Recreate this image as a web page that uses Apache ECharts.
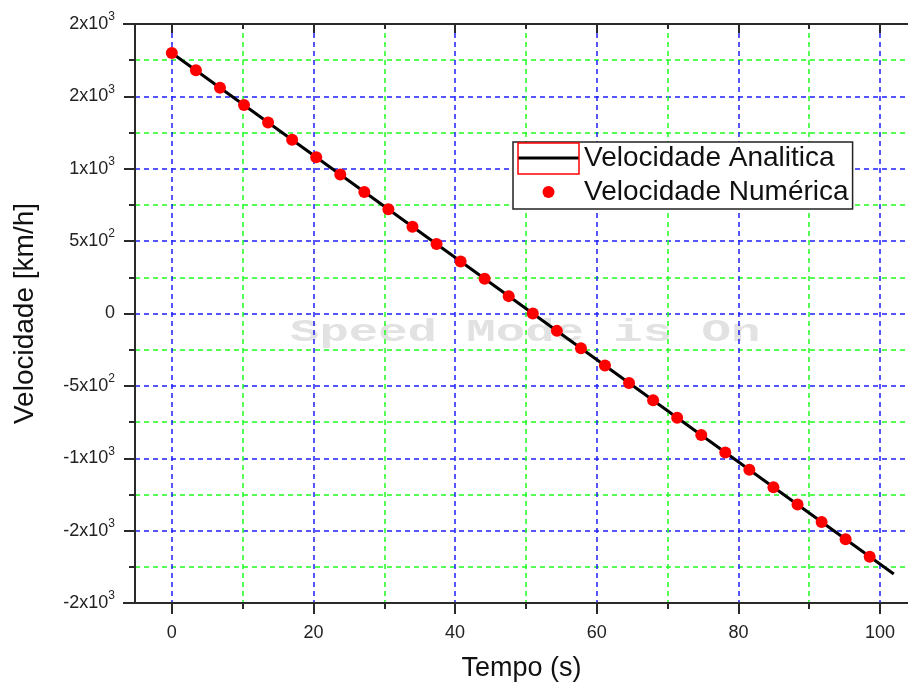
<!DOCTYPE html>
<html>
<head>
<meta charset="utf-8">
<script src="https://cdn.jsdelivr.net/npm/echarts@6/dist/echarts.min.js"></script>
<style>
  html, body { margin: 0; padding: 0; background: #ffffff; }
  #chart { width: 908px; height: 691px; }
</style>
</head>
<body>
<div id="chart"></div>
<script>
// Time samples of the numerical solution (s)
const timeNumeric = [0, 3.40, 6.80, 10.19, 13.59, 16.99, 20.39, 23.79, 27.18, 30.58,
  33.98, 37.38, 40.78, 44.17, 47.57, 50.97, 54.37, 57.77, 61.16, 64.56,
  67.96, 71.36, 74.76, 78.15, 81.55, 84.95, 88.35, 91.75, 95.14, 98.54];
// Numerical velocity (km/h)
const velocityNumeric = [1800, 1680, 1560, 1440, 1320, 1200, 1080, 960, 840, 720,
  600, 480, 360, 240, 120, 0, -120, -240, -360, -480,
  -600, -720, -840, -960, -1080, -1200, -1320, -1440, -1560, -1680];
// Analytic velocity (straight line v0 - g t)
const timeAnalytic = [0, 50.97, 101.94];
const velocityAnalytic = [1800, 0, -1800];

// Axis ticks
const xMajorTicks = [0, 20, 40, 60, 80, 100];
const xMinorTicks = [10, 30, 50, 70, 90];
const yTickValues = [-2000, -1500, -1000, -500, 0, 500, 1000, 1500, 2000];
const yTickMantissa = ['-2x10', '-2x10', '-1x10', '-5x10', '0', '5x10', '1x10', '2x10', '2x10'];
const yTickExponent = ['3', '3', '3', '2', '', '2', '3', '3', '3'];

const seriesNames = ['Velocidade Analitica', 'Velocidade Numérica'];

const FONT = '"Liberation Sans", Arial, sans-serif';
const AXIS_COLOR = '#2a2a2a';
const BLUE = '#1f1fff';
const GREEN = '#1fff1f';

const chart = echarts.init(document.getElementById('chart'), null, { renderer: 'canvas' });

const analyticData = timeAnalytic.map((t, i) => [t, velocityAnalytic[i]]);
const numericData = timeNumeric.map((t, i) => [t, velocityNumeric[i]]);

// visible time window: the plot area is cut at the right border
const xBase = { type: 'value', min: -5.2, max: 103.95, gridIndex: 0 };

const option = {
  animation: false,
  backgroundColor: '#ffffff',
  grid: { left: 135, top: 24, bottom: 88, right: 0, containLabel: false },
  legend: {
    orient: 'vertical',
    left: 513,
    top: 142,
    data: [
      { name: seriesNames[0], icon: 'path://M0,0 L61,0 L61,3 L0,3 Z' },
      { name: seriesNames[1], icon: 'circle' }
    ],
    itemWidth: 61,
    itemHeight: 12,
    itemGap: 4,
    symbolKeepAspect: true,
    padding: [1, 4, 2, 5],
    borderColor: '#222',
    borderWidth: 1.5,
    backgroundColor: '#ffffff',
    textStyle: { fontFamily: FONT, fontSize: 28, color: '#111', lineHeight: 30 }
  },
  xAxis: [
    Object.assign({}, xBase, {
      position: 'bottom',
      name: 'Tempo (s)',
      nameLocation: 'middle',
      nameGap: 52,
      nameTextStyle: { fontFamily: FONT, fontSize: 27, color: '#111' },
      axisLine: { show: true, onZero: false, lineStyle: { color: AXIS_COLOR, width: 2 } },
      axisTick: { show: true, inside: false, length: 11, customValues: xMajorTicks, lineStyle: { color: AXIS_COLOR, width: 2 } },
      axisLabel: { show: true, customValues: xMajorTicks, margin: 21, fontFamily: FONT, fontSize: 18, color: '#222' },
      splitLine: { show: true, lineStyle: { color: BLUE, width: 1.5, type: [5, 4] } }
    }),
    Object.assign({}, xBase, {
      position: 'bottom',
      axisLine: { show: false, onZero: false },
      axisTick: { show: true, inside: false, length: 6, customValues: xMinorTicks, lineStyle: { color: AXIS_COLOR, width: 2 } },
      axisLabel: { show: false },
      splitLine: { show: true, lineStyle: { color: GREEN, width: 1.5, type: [5, 4] } }
    }),
    Object.assign({}, xBase, {
      position: 'top',
      axisLine: { show: true, onZero: false, lineStyle: { color: AXIS_COLOR, width: 2 } },
      axisTick: { show: true, inside: true, length: 9, customValues: xMajorTicks, lineStyle: { color: AXIS_COLOR, width: 2 } },
      axisLabel: { show: false },
      splitLine: { show: false }
    }),
    Object.assign({}, xBase, {
      position: 'top',
      axisLine: { show: false, onZero: false },
      axisTick: { show: true, inside: true, length: 5, customValues: xMinorTicks, lineStyle: { color: AXIS_COLOR, width: 2 } },
      axisLabel: { show: false },
      splitLine: { show: false }
    })
  ],
  yAxis: [{
    type: 'value',
    min: -2000,
    max: 2000,
    interval: 500,
    position: 'left',
    name: 'Velocidade [km/h]',
    nameLocation: 'middle',
    nameGap: 96,
    nameTextStyle: { fontFamily: FONT, fontSize: 28, color: '#111' },
    axisLine: { show: true, onZero: false, lineStyle: { color: AXIS_COLOR, width: 2 } },
    axisTick: { show: true, inside: false, length: 11, lineStyle: { color: AXIS_COLOR, width: 2 } },
    minorTick: { show: true, splitNumber: 2, length: 6, lineStyle: { color: AXIS_COLOR, width: 2 } },
    splitLine: { show: true, lineStyle: { color: BLUE, width: 1.5, type: [5, 4] } },
    minorSplitLine: { show: true, lineStyle: { color: GREEN, width: 1.5, type: [5, 4] } },
    axisLabel: {
      margin: 20,
      formatter: function (value) {
        const i = yTickValues.indexOf(value);
        if (i < 0) return '';
        const exp = yTickExponent[i];
        return exp ? '{m|' + yTickMantissa[i] + '}{e|' + exp + '}' : '{m|' + yTickMantissa[i] + '}';
      },
      rich: {
        m: { fontFamily: FONT, fontSize: 18, color: '#222', lineHeight: 26 },
        e: { fontFamily: FONT, fontSize: 12, color: '#222', lineHeight: 10, verticalAlign: 'top' }
      }
    }
  }],
  graphic: [
    {
      type: 'text',
      z: -1,
      x: 290,
      y: 333,
      scaleX: 1.58,
      silent: true,
      style: {
        text: 'Speed Mode is On',
        fontFamily: '"Liberation Mono", "DejaVu Sans Mono", monospace',
        fontSize: 31,
        fontWeight: 'bold',
        fill: '#e2e2e2',
        align: 'left',
        verticalAlign: 'middle'
      }
    },
    {
      type: 'rect',
      z: 100,
      silent: true,
      shape: { x: 518, y: 143, width: 61, height: 31 },
      style: { fill: 'none', stroke: '#ff0000', lineWidth: 1.5 }
    },
    {
      type: 'line',
      z: 100,
      silent: true,
      shape: { x1: 123, y1: 24, x2: 135, y2: 24 },
      style: { stroke: AXIS_COLOR, lineWidth: 2 }
    },
    {
      type: 'line',
      z: 100,
      silent: true,
      shape: { x1: 123, y1: 603, x2: 135, y2: 603 },
      style: { stroke: AXIS_COLOR, lineWidth: 2 }
    }
  ],
  series: [
    {
      name: seriesNames[0],
      type: 'line',
      xAxisIndex: 0,
      yAxisIndex: 0,
      data: analyticData,
      symbol: 'none',
      showSymbol: false,
      lineStyle: { color: '#000000', width: 3 },
      itemStyle: { color: '#000000' },
      z: 2
    },
    {
      name: seriesNames[1],
      type: 'scatter',
      xAxisIndex: 0,
      yAxisIndex: 0,
      data: numericData,
      symbol: 'circle',
      symbolSize: 12,
      itemStyle: { color: '#ff0000', opacity: 1 },
      z: 3
    }
  ]
};

chart.setOption(option);
</script>
</body>
</html>
